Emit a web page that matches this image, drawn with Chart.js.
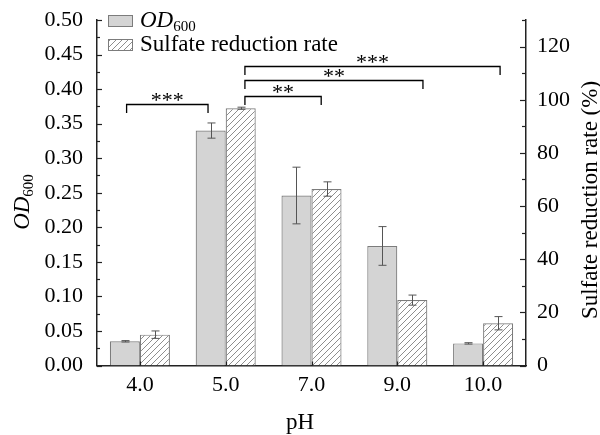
<!DOCTYPE html>
<html>
<head>
<meta charset="utf-8">
<script src="https://cdn.jsdelivr.net/npm/chart.js@4.4.1/dist/chart.umd.min.js"></script>
<style>
html,body{margin:0;padding:0;background:#fff;}
#wrap{width:600px;height:435px;position:relative;}
</style>
</head>
<body>
<div id="wrap"><canvas id="c" width="600" height="435"></canvas></div>
<script>
const categories = ['4.0', '5.0', '7.0', '9.0', '10.0'];
const odValues = [0.035, 0.340, 0.246, 0.173, 0.032];
const odErrors = [0.001, 0.011, 0.041, 0.028, 0.001];
const srrValues = [11.6, 96.8, 66.4, 24.6, 15.9];
const srrErrors = [1.4, 0.4, 2.7, 1.9, 2.5];
const odAxisRange = [0, 0.5];
const srrAxisRange = [0, 130];
const brackets = [
  {from: -0.155, to: 0.794, y: 0.378, label: '***'},
  {from: 1.224, to: 2.113, y: 0.390, label: '**'},
  {from: 1.224, to: 3.299, y: 0.413, label: '**'},
  {from: 1.224, to: 4.198, y: 0.434, label: '***'}
];
const xTitle = 'pH';
const rightTitle = 'Sulfate reduction rate (%)';
const legendLabels = ['OD', 'Sulfate reduction rate'];

const FONT = "'Liberation Serif', 'Times New Roman', serif";
const GRAY = '#d4d4d4';
const EDGE = '#7c7c7c';
const AXIS = '#222';

function makeHatch() {
  const s = 6;
  const c = document.createElement('canvas');
  c.width = s; c.height = s;
  const g = c.getContext('2d');
  g.fillStyle = '#fff';
  g.fillRect(0, 0, s, s);
  g.strokeStyle = '#8e8e8e';
  g.lineWidth = 1;
  g.beginPath();
  g.moveTo(-1, s + 1); g.lineTo(s + 1, -1);
  g.moveTo(-1, 1); g.lineTo(1, -1);
  g.moveTo(s - 1, s + 1); g.lineTo(s + 1, s - 1);
  g.stroke();
  return g.createPattern(c, 'repeat');
}
const hatch = makeHatch();

const decorPlugin = {
  id: 'decor',
  afterDatasetsDraw(chart) {
    const ctx = chart.ctx;
    const y = chart.scales.y, y1 = chart.scales.y1;
    const sets = [[0, odValues, odErrors, y], [1, srrValues, srrErrors, y1]];
    ctx.save();
    ctx.strokeStyle = '#555';
    ctx.lineWidth = 1;
    sets.forEach(([di, vals, errs, sc]) => {
      const meta = chart.getDatasetMeta(di);
      meta.data.forEach((bar, i) => {
        const cx = Math.round(bar.x) + 0.5;
        const top = sc.getPixelForValue(vals[i] + errs[i]);
        const bot = sc.getPixelForValue(vals[i] - errs[i]);
        ctx.beginPath();
        ctx.moveTo(cx, top); ctx.lineTo(cx, bot);
        ctx.moveTo(cx - 4, top); ctx.lineTo(cx + 4, top);
        ctx.moveTo(cx - 4, bot); ctx.lineTo(cx + 4, bot);
        ctx.stroke();
      });
    });
    ctx.restore();
  },
  afterDraw(chart) {
    const ctx = chart.ctx;
    const x = chart.scales.x, y = chart.scales.y, y1 = chart.scales.y1;
    const ca = chart.chartArea;
    ctx.save();
    ctx.strokeStyle = AXIS;
    ctx.lineWidth = 1.2;
    for (let k = 0; k <= 20; k++) {
      const v = k * 0.025;
      const py = Math.round(y.getPixelForValue(v)) + 0.5;
      const len = k % 2 === 0 ? 5 : 3;
      ctx.beginPath(); ctx.moveTo(ca.left, py); ctx.lineTo(ca.left + len, py); ctx.stroke();
    }
    for (let v = 0; v <= 130; v += 10) {
      const py = Math.round(y1.getPixelForValue(v)) + 0.5;
      const len = v % 20 === 0 ? 6 : 4;
      ctx.beginPath(); ctx.moveTo(ca.right, py); ctx.lineTo(ca.right - len, py); ctx.stroke();
    }
    categories.forEach((c, i) => {
      const px = Math.round(x.getPixelForValue(i)) + 0.5;
      ctx.beginPath(); ctx.moveTo(px, ca.bottom); ctx.lineTo(px, ca.bottom - 4); ctx.stroke();
    });
    ctx.strokeStyle = '#000';
    ctx.lineWidth = 1.3;
    ctx.fillStyle = '#000';
    ctx.font = '22px ' + FONT;
    ctx.textAlign = 'center';
    ctx.textBaseline = 'alphabetic';
    brackets.forEach(b => {
      const x1 = x.getPixelForValue(b.from);
      const x2 = x.getPixelForValue(b.to);
      const py = Math.round(y.getPixelForValue(b.y)) + 0.5;
      ctx.beginPath();
      ctx.moveTo(x1, py + 8.5); ctx.lineTo(x1, py); ctx.lineTo(x2, py); ctx.lineTo(x2, py + 8.5);
      ctx.stroke();
      ctx.fillText(b.label, (x1 + x2) / 2, py + 2);
    });
    ctx.lineWidth = 1;
    ctx.strokeStyle = EDGE;
    ctx.fillStyle = GRAY;
    ctx.fillRect(108.5, 15.5, 24, 11);
    ctx.strokeRect(108.5, 15.5, 24, 11);
    ctx.fillStyle = hatch;
    ctx.fillRect(108.5, 39.5, 24, 11);
    ctx.strokeRect(108.5, 39.5, 24, 11);
    ctx.fillStyle = '#000';
    ctx.textAlign = 'left';
    ctx.font = 'italic 23px ' + FONT;
    ctx.fillText(legendLabels[0], 140, 27);
    const w0 = ctx.measureText(legendLabels[0]).width;
    ctx.font = '15px ' + FONT;
    ctx.fillText('600', 140 + w0, 31);
    ctx.font = '23px ' + FONT;
    ctx.fillText(legendLabels[1], 140, 51);
    ctx.textAlign = 'center';
    ctx.font = '23px ' + FONT;
    ctx.fillText(xTitle, 300, 429);
    ctx.save();
    ctx.translate(589, 200);
    ctx.rotate(-Math.PI / 2);
    ctx.textAlign = 'center';
    ctx.fillText(rightTitle, 0, 8);
    ctx.restore();
    ctx.save();
    ctx.translate(21, 202);
    ctx.rotate(-Math.PI / 2);
    ctx.textAlign = 'left';
    ctx.font = 'italic 23px ' + FONT;
    const wa = ctx.measureText('OD').width;
    ctx.font = '15px ' + FONT;
    const wb = ctx.measureText('600').width;
    const start = -(wa + wb) / 2;
    ctx.font = 'italic 23px ' + FONT;
    ctx.fillText('OD', start, 8);
    ctx.font = '15px ' + FONT;
    ctx.fillText('600', start + wa, 12);
    ctx.restore();
    ctx.restore();
  }
};

function fixV(width) {
  return function (s) { s.width = width; s.paddingTop = 0; s.paddingBottom = 0; };
}

new Chart(document.getElementById('c'), {
  type: 'bar',
  data: {
    labels: categories,
    datasets: [
      {
        label: 'OD600',
        data: odValues,
        yAxisID: 'y',
        backgroundColor: GRAY,
        borderColor: EDGE,
        borderWidth: 1.2,
        categoryPercentage: 0.7,
        barPercentage: 1.0
      },
      {
        label: 'Sulfate reduction rate',
        data: srrValues,
        yAxisID: 'y1',
        backgroundColor: hatch,
        borderColor: EDGE,
        borderWidth: 1.2,
        categoryPercentage: 0.7,
        barPercentage: 1.0
      }
    ]
  },
  options: {
    responsive: false,
    animation: false,
    devicePixelRatio: 1,
    layout: {padding: {top: 20, left: 0, right: 0, bottom: 0}},
    plugins: {legend: {display: false}, tooltip: {enabled: false}},
    scales: {
      x: {
        offset: true,
        grid: {display: false, drawTicks: false},
        border: {display: true, color: AXIS, width: 1.5},
        ticks: {color: '#000', font: {family: FONT, size: 22}, padding: 7},
        afterFit(s) { s.height = 69.5; s.paddingLeft = 0; s.paddingRight = 0; }
      },
      y: {
        position: 'left',
        min: odAxisRange[0], max: odAxisRange[1],
        grid: {display: false, drawTicks: false},
        border: {display: true, color: AXIS, width: 1.5},
        ticks: {
          stepSize: 0.05, color: '#000', font: {family: FONT, size: 22}, padding: 14,
          callback: v => Number(v).toFixed(2)
        },
        afterFit: fixV(97)
      },
      y1: {
        position: 'right',
        min: srrAxisRange[0], max: srrAxisRange[1],
        grid: {display: false, drawTicks: false},
        border: {display: true, color: AXIS, width: 1.5},
        ticks: {
          stepSize: 20, color: '#000', font: {family: FONT, size: 22}, padding: 11,
          callback: v => (v % 20 === 0 && v <= 120) ? String(v) : ''
        },
        afterFit: fixV(74)
      }
    }
  },
  plugins: [decorPlugin]
});
</script>
</body>
</html>
